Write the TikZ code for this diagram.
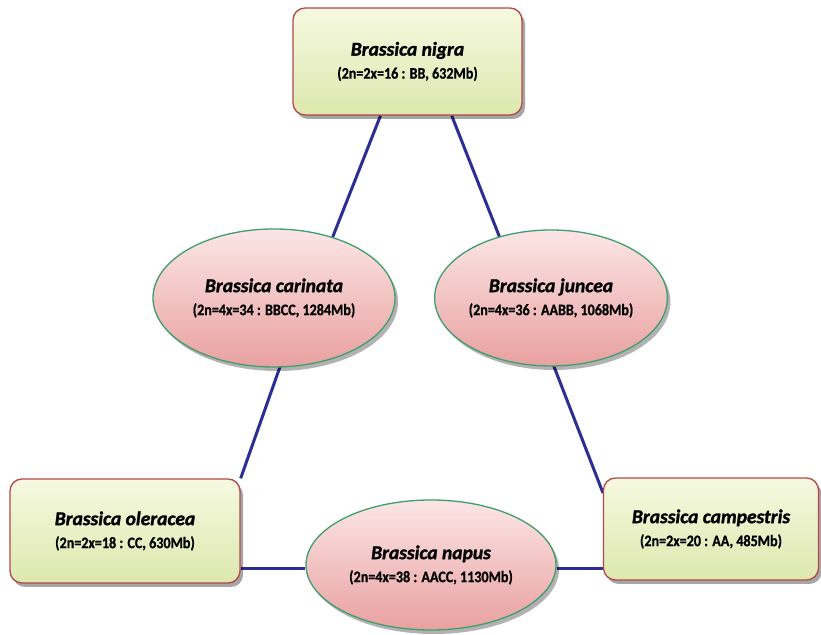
\documentclass[tikz,border=0pt]{standalone}
\usepackage{fontspec}
\newfontfamily\cf[BoldFeatures={FakeBold=1.2},BoldItalicFeatures={FakeBold=1.5}]{Carlito}
\newfontfamily\cfsub[FakeStretch=0.88,BoldFeatures={FakeBold=0.8}]{Carlito}
\usetikzlibrary{shadows,backgrounds,shapes.geometric}
\definecolor{boxtop}{HTML}{F6F9E0}
\definecolor{boxbot}{HTML}{DDE8AE}
\definecolor{boxline}{HTML}{B5474A}
\definecolor{elltop}{HTML}{FCE6E6}
\definecolor{ellbot}{HTML}{E9A0A0}
\definecolor{ellline}{HTML}{3E9E6C}
\definecolor{linkblue}{HTML}{2B2F93}
\newcommand{\sptitle}[1]{{\cf\fontsize{19.5}{23}\selectfont\bfseries\itshape #1}}
\newcommand{\spsub}[1]{{\cfsub\fontsize{16}{23}\selectfont\bfseries #1}}
\begin{document}
\begin{tikzpicture}[x=1pt,y=1pt,
  species/.style={rectangle, rounded corners=12pt, draw=boxline, line width=1.3pt,
    top color=boxtop, bottom color=boxbot, inner sep=0pt, align=center,
    font=\cf\fontsize{14.5}{23}\selectfont,
    drop shadow={shadow xshift=3pt, shadow yshift=-4pt, fill=black, opacity=0.35}},
  hybrid/.style={ellipse, draw=ellline, line width=1.3pt,
    top color=elltop, bottom color=ellbot, inner sep=0pt, align=center,
    font=\cf\fontsize{14.5}{23}\selectfont,
    drop shadow={shadow xshift=3pt, shadow yshift=-4pt, fill=black, opacity=0.3}},
  link/.style={draw=linkblue, line width=3pt}]
\useasboundingbox (0,0) rectangle (821,634);

\node[species, minimum width=229, minimum height=107] (nigra) at (407.5,572.5)
  {\sptitle{Brassica nigra}\\\spsub{(2n=2x=16 : BB, 632Mb)}};
\node[species, minimum width=230, minimum height=104] (oleracea) at (125,103)
  {\sptitle{Brassica oleracea}\\\spsub{(2n=2x=18 : CC, 630Mb)}};
\node[species, minimum width=215, minimum height=102] (campestris) at (711,105)
  {\sptitle{Brassica campestris}\\\spsub{(2n=2x=20 : AA, 485Mb)}};
\node[hybrid, minimum width=242, minimum height=138] (carinata) at (274,336)
  {\sptitle{Brassica carinata}\\\spsub{(2n=4x=34 : BBCC, 1284Mb)}};
\node[hybrid, minimum width=232, minimum height=136] (juncea) at (551,336)
  {\sptitle{Brassica juncea}\\\spsub{(2n=4x=36 : AABB, 1068Mb)}};
\node[hybrid, minimum width=250, minimum height=130] (napus) at (431,69)
  {\sptitle{Brassica napus}\\\spsub{(2n=4x=38 : AACC, 1130Mb)}};

\begin{scope}[on background layer]
\fill[white] (0,0) rectangle (821,634);
\draw[link] ([xshift=-27]nigra.south) -- ([shift={(58.7,61)}]carinata.center);
\draw[link] ([xshift=44.2]nigra.south) -- ([shift={(-48.3,53)}]juncea.center);
\draw[link] ([shift={(7,-66)}]carinata.center) -- (oleracea.north east);
\draw[link] ([shift={(2,-66)}]juncea.center) -- ([shift={(-108,36)}]campestris.center);
\draw[link] ([yshift=-38]oleracea.east) -- ([yshift=-4]napus.west);
\draw[link] ([yshift=-4]napus.east) -- ([yshift=-40]campestris.west);
\end{scope}
\end{tikzpicture}
\end{document}
